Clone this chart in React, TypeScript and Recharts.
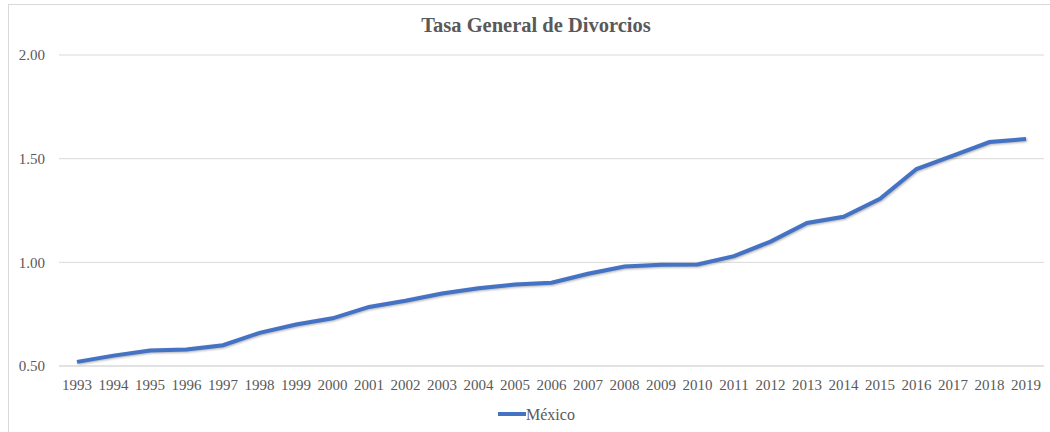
import { LineChart, Line, XAxis, YAxis, CartesianGrid, Legend } from 'recharts';

const years = [
  '1993', '1994', '1995', '1996', '1997', '1998', '1999', '2000', '2001',
  '2002', '2003', '2004', '2005', '2006', '2007', '2008', '2009', '2010',
  '2011', '2012', '2013', '2014', '2015', '2016', '2017', '2018', '2019',
];

const mexico = [
  0.52, 0.55, 0.575, 0.58, 0.6, 0.66, 0.7, 0.73, 0.785,
  0.815, 0.85, 0.875, 0.893, 0.902, 0.945, 0.98, 0.988, 0.99,
  1.03, 1.1, 1.19, 1.22, 1.307, 1.45, 1.515, 1.58, 1.595,
];

const yTicks = [0.5, 1.0, 1.5, 2.0];

const chartData = years.map((year, i) => ({ year, mexico: mexico[i] }));

const FONT = '"Liberation Serif", "Times New Roman", serif';
const TEXT = '#595959';
const BLUE = '#4472C4';

function LegendContent() {
  return (
    <div
      style={{
        display: 'flex',
        justifyContent: 'center',
        height: 36,
        paddingLeft: 22,
        boxSizing: 'border-box',
      }}
    >
      <svg width={82} height={36}>
        <line x1={1} y1={18} x2={29} y2={18} stroke={BLUE} strokeWidth={4} />
        <text
          x={29}
          y={23.5}
          fontFamily={FONT}
          fontSize={16}
          fill={TEXT}
        >
          México
        </text>
      </svg>
    </div>
  );
}

export default function App() {
  return (
    <div
      style={{
        position: 'absolute',
        left: 0,
        top: 0,
        width: 1050,
        height: 432,
        overflow: 'hidden',
        background: '#fff',
      }}
    >
      <div
        style={{
          position: 'absolute',
          left: 8,
          top: 4,
          width: 1060,
          height: 440,
          border: '1px solid #d9d9d9',
        }}
      />
      <div
        style={{
          position: 'absolute',
          top: 14,
          left: 0,
          width: 1072,
          textAlign: 'center',
          fontFamily: FONT,
          fontWeight: 'bold',
          fontSize: 20.5,
          color: TEXT,
        }}
      >
        Tasa General de Divorcios
      </div>
      <div style={{ position: 'absolute', left: 0, top: 0 }}>
        <LineChart
          width={1050}
          height={432}
          data={chartData}
          margin={{ top: 55, right: 6, left: 9, bottom: 0 }}
        >
          <CartesianGrid stroke="#d9d9d9" vertical={false} />
          <XAxis
            dataKey="year"
            axisLine={{ stroke: '#d9d9d9' }}
            tickLine={false}
            tickMargin={7}
            height={30}
            interval={0}
            padding={{ left: 18, right: 18 }}
            tick={{ fontSize: 15, fill: TEXT, fontFamily: FONT }}
          />
          <YAxis
            domain={[0.5, 2]}
            ticks={yTicks}
            width={50}
            axisLine={false}
            tickLine={false}
            tickMargin={8}
            tickFormatter={(v: number) => v.toFixed(2)}
            tick={{ fontSize: 15, fill: TEXT, fontFamily: FONT }}
          />
          <Legend
            verticalAlign="bottom"
            height={36}
            content={() => <LegendContent />}
          />
          <Line
            type="linear"
            dataKey="mexico"
            name="México"
            stroke={BLUE}
            strokeWidth={4}
            dot={false}
            isAnimationActive={false}
            style={{ filter: 'drop-shadow(1px 1.5px 1px rgba(0,0,0,0.3))' }}
          />
        </LineChart>
      </div>
    </div>
  );
}
